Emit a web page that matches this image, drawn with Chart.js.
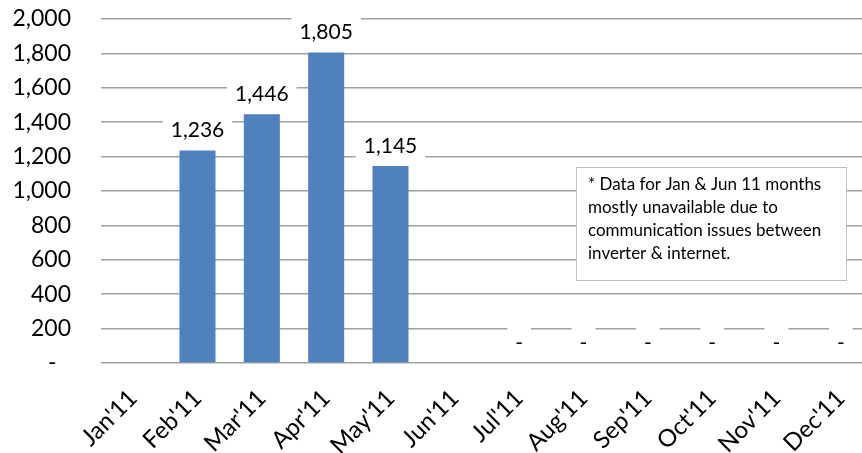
<!DOCTYPE html>
<html>
<head>
<meta charset="utf-8">
<script src="https://cdn.jsdelivr.net/npm/chart.js@4"></script>
<style>
  html, body { margin: 0; padding: 0; background: #fff; overflow: hidden; }
  #wrap { width: 862px; height: 453px; overflow: hidden; }
</style>
</head>
<body>
<div id="wrap">
  <canvas id="energyChart" width="876" height="453"></canvas>
</div>
<script>
const months = ["Jan'11", "Feb'11", "Mar'11", "Apr'11", "May'11", "Jun'11",
  "Jul'11", "Aug'11", "Sep'11", "Oct'11", "Nov'11", "Dec'11"];
// Jan and Jun have no data at all, Jul-Dec are zero
const energy = [null, 1236, 1446, 1805, 1145, null, 0, 0, 0, 0, 0, 0];
const yTicks = [0, 200, 400, 600, 800, 1000, 1200, 1400, 1600, 1800, 2000];
const noteLines = [
  "* Data for Jan & Jun 11 months",
  "mostly unavailable due to",
  "communication issues between",
  "inverter & internet."
];

const FONT = "Lato, 'Liberation Sans', sans-serif";

const fmt = v => (v === 0 ? '-' : v.toLocaleString('en-US'));

// value labels sitting on a white box above each bar
const valueLabels = {
  id: 'valueLabels',
  afterDatasetsDraw(chart) {
    const ctx = chart.ctx;
    const meta = chart.getDatasetMeta(0);
    ctx.save();
    ctx.font = '21px ' + FONT;
    ctx.textAlign = 'center';
    ctx.textBaseline = 'middle';
    meta.data.forEach((bar, i) => {
      const v = energy[i];
      if (v === null || v === undefined) return;
      const text = fmt(v);
      const cy = bar.y - 20;
      const w = ctx.measureText(text).width + 16;
      ctx.fillStyle = '#fff';
      ctx.fillRect(bar.x - w / 2, cy - 16, w, 28);
      ctx.fillStyle = '#000';
      ctx.fillText(text, bar.x, cy);
    });
    ctx.restore();
  }
};

// the note box on the right
const noteBox = {
  id: 'noteBox',
  afterDraw(chart) {
    const ctx = chart.ctx;
    ctx.save();
    ctx.fillStyle = '#fff';
    ctx.fillRect(576, 167, 270, 113);
    ctx.strokeStyle = '#bfbfbf';
    ctx.lineWidth = 1;
    ctx.strokeRect(576.5, 167.5, 270, 113);
    ctx.fillStyle = '#000';
    ctx.font = '17px ' + FONT;
    ctx.textAlign = 'left';
    ctx.textBaseline = 'middle';
    noteLines.forEach((line, i) => {
      ctx.fillText(line, 588, 185 + i * 23);
    });
    ctx.restore();
  }
};

const ctx = document.getElementById('energyChart').getContext('2d');
new Chart(ctx, {
  type: 'bar',
  data: {
    labels: months,
    datasets: [{
      data: energy,
      backgroundColor: '#4f81bd',
      borderWidth: 0,
      barPercentage: 0.56,
      categoryPercentage: 1
    }]
  },
  options: {
    responsive: false,
    animation: false,
    layout: { padding: { top: 19, right: 3, left: 0, bottom: 0 } },
    plugins: {
      legend: { display: false },
      tooltip: { enabled: false }
    },
    scales: {
      x: {
        grid: { display: false },
        border: { display: false },
        ticks: {
          color: '#000',
          font: { family: FONT, size: 24 },
          minRotation: 45,
          maxRotation: 45,
          padding: 13,
          autoSkip: false
        },
        afterFit(scale) { scale.height = 90; }
      },
      y: {
        min: 0,
        max: 2000,
        afterBuildTicks(scale) {
          scale.ticks = yTicks.map(v => ({ value: v }));
        },
        // ticks are invisible, they only push the labels away from the plot
        grid: { color: '#a0a0a0', lineWidth: 1.5, drawTicks: true, tickLength: 30, tickColor: 'rgba(0,0,0,0)' },
        border: { display: false },
        ticks: {
          color: '#000',
          font: { family: FONT, size: 23 },
          padding: 0,
          callback: v => (v === 0 ? '-\u2002\u2009' : v.toLocaleString('en-US'))
        },
        afterFit(scale) { scale.width = 101; }
      }
    }
  },
  plugins: [valueLabels, noteBox]
});
</script>
</body>
</html>
